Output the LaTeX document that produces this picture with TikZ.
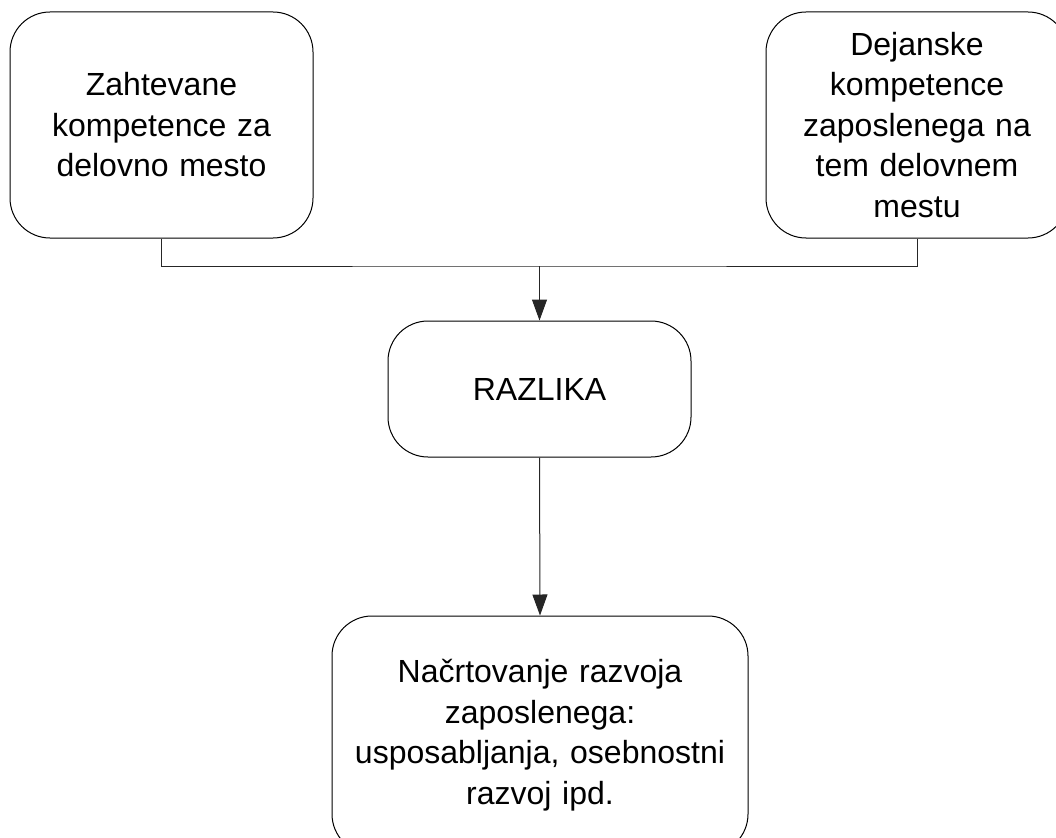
\documentclass[tikz,border=0pt]{standalone}
\usepackage{fontspec}
\setmainfont{Liberation Sans}
\usetikzlibrary{arrows.meta}
\tikzset{
  box/.style={draw=black, line width=1pt, rounded corners=40pt, align=center,
    inner sep=0pt, font=\fontsize{32}{40.5}\selectfont},
  conn/.style={draw=black!85, line width=1pt},
  arr/.style={conn, -{Triangle[length=21pt,width=15pt]}}
}
\begin{document}
\begin{tikzpicture}[x=1pt,y=-1pt]
\useasboundingbox (0,0) rectangle (1056,837);
\node[box, minimum width=303pt, minimum height=226pt, text width=290pt] (tl) at (161.5,125) {Zahtevane\\kompetence za\\delovno mesto};
\node[box, minimum width=302pt, minimum height=226pt, text width=290pt] (tr) at (917,125) {Dejanske\\kompetence\\zaposlenega na\\tem delovnem\\mestu};
\node[box, minimum width=303pt, minimum height=136pt, text width=290pt] (rz) at (539.5,389) {RAZLIKA};
\node[box, minimum width=416pt, minimum height=238pt, text width=400pt] (nr) at (540,735) {Načrtovanje razvoja\\zaposlenega:\\usposabljanja, osebnostni\\razvoj ipd.};
\coordinate (j) at (539.5,266);
\draw[conn] (tl.south) |- (j) -| (tr.south);
\draw[arr] (j) -- (rz.north);
\draw[arr] (rz.south) -- (nr.north);
\end{tikzpicture}
\end{document}
